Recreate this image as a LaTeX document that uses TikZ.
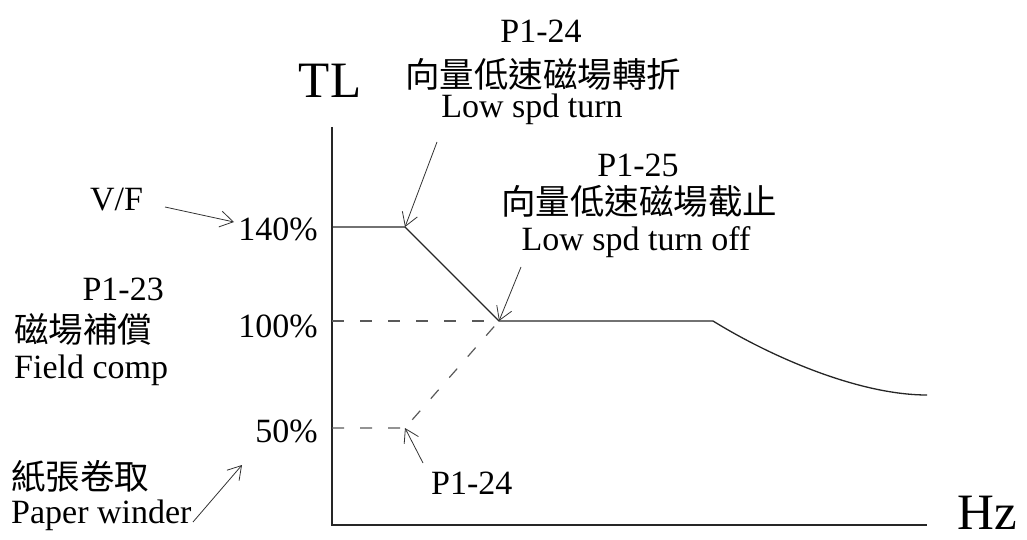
\documentclass[tikz,border=0pt]{standalone}
\usepackage{fontspec}
\setmainfont{Liberation Serif}
\newfontfamily\cjk{Noto Sans CJK TC}
\usetikzlibrary{arrows.meta}
\tikzset{
  lbl/.style={inner sep=0pt, font=\fontsize{34}{38}\selectfont},
  zh/.style={inner sep=0pt, font=\cjk\fontsize{34.5}{38}\selectfont},
  big/.style={inner sep=0pt, font=\fontsize{51}{56}\selectfont},
  curve/.style={line width=1.3pt, draw=black!85},
  guide/.style={line width=1.2pt, draw=black!65, dash pattern=on 12pt off 16pt},
  pointer/.style={line width=0.8pt, draw=black!80, -{Straight Barb[length=13pt,width=16pt]}}
}
\begin{document}
\begin{tikzpicture}[x=1pt,y=-1pt]
    \useasboundingbox (0,0) rectangle (1027,540);

    % ejes
    \coordinate (o) at (332,525);
    \coordinate (ytop) at (332,127);
    \coordinate (xend) at (927,525);
    \draw[curve] (ytop) -- (o) -- (xend);
    \node[big, anchor=base] (tl) at (330,98) {TL};
    \node[big, anchor=base east] (hz) at (1017,529) {Hz};

    % puntos de la curva
    \coordinate (a) at (332,227);
    \coordinate (b) at (405,227);
    \coordinate (c) at (499,321);
    \coordinate (d) at (713,321);
    \coordinate (e) at (927,395);
    \coordinate (f) at (332,321);
    \coordinate (g) at (332,428);
    \coordinate (h) at (405,428);

    \draw[guide] (f) -- (c);
    \draw[guide] (g) -- (h) -- (c);
    \draw[curve] (a) -- (b) -- (c) -- (d) .. controls (773,358) and (860,395) .. (e);

    % valores del eje
    \node[lbl, anchor=base east] (p140) at (318,240) {140\%};
    \node[lbl, anchor=base east] (p100) at (318,337) {100\%};
    \node[lbl, anchor=base east] (p50) at (318,442) {50\%};

    % etiquetas izquierda
    \node[lbl, anchor=base west] (vf) at (90,210) {V/F};
    \node[lbl, anchor=base east] (p123) at (164,300) {P1-23};
    \node[zh, anchor=west] (comp) at (14,329) {磁場補償};
    \node[lbl, anchor=base west] (compen) at (14,378) {Field comp};
    \node[zh, anchor=west] (paper) at (11,476) {紙張卷取};
    \node[lbl, anchor=base west] (paperen) at (11,523) {Paper winder};

    % etiquetas superiores
    \node[lbl, anchor=base] (top24) at (541,43) {P1-24};
    \node[zh] (turn) at (543,74) {向量低速磁場轉折};
    \node[lbl, anchor=base] (turnen) at (532,118) {Low spd turn};
    \node[lbl, anchor=base] (top25) at (638,177) {P1-25};
    \node[zh] (off) at (639,201) {向量低速磁場截止};
    \node[lbl, anchor=base] (offen) at (636,250) {Low spd turn off};
    \node[lbl, anchor=base west] (low24) at (431,494) {P1-24};

    % flechas
    \coordinate (vft) at (165,207);
    \coordinate (pwt) at (193,522);
    \coordinate (t24) at (437,142);
    \coordinate (t25) at (521,267);
    \coordinate (l24) at (423,463);
    \draw[pointer] (vft) -- (234,222);
    \draw[pointer] (pwt) -- (242,465);
    \draw[pointer] (t24) -- (b);
    \draw[pointer] (t25) -- (c);
    \draw[pointer] (l24) -- (h);
\end{tikzpicture}
\end{document}
